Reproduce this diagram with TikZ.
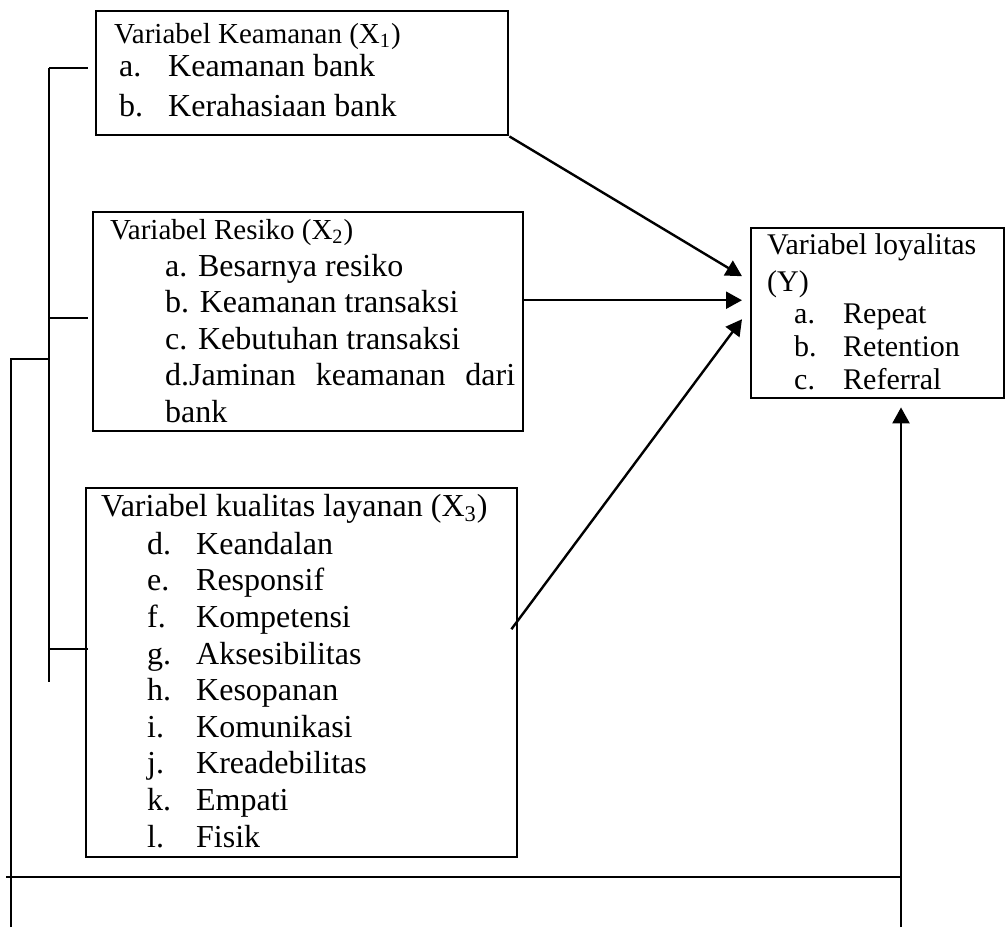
\documentclass[tikz,border=0pt]{standalone}
\usepackage{fontspec}
\setmainfont{Liberation Serif}
\usetikzlibrary{arrows.meta, positioning, calc}

% list entry: indent, label, text
\newcommand{\itm}[3]{\hspace*{#1}\makebox[24.5pt][l]{#2}#3}

\begin{document}
\begin{tikzpicture}[x=0.5pt, y=-0.5pt, line width=1.2pt,
    var/.style={draw, anchor=north west, inner sep=0pt},
    arr/.style={-{Triangle[length=8pt, width=8.5pt]}},
  ]
  \useasboundingbox (0,0) rectangle (1005,927);

  \node[var] (kx1) at (95,10) {\parbox[c][62pt][t]{206pt}{%
      \fontsize{16}{20}\selectfont
      \rule{0pt}{16pt}\hspace*{9pt}{\fontsize{14.5}{16}\selectfont
        Variabel Keamanan (X\textsubscript{1})}\\[-3.5pt]
      \itm{11.5pt}{a.}{Keamanan bank}\\
      \itm{11.5pt}{b.}{Kerahasiaan bank}}};

  \node[var] (kx2) at (92,211) {\parbox[c][109.5pt][t]{215pt}{%
      \fontsize{16}{18.25}\selectfont
      \rule{0pt}{13.5pt}\hspace*{8.5pt}{\fontsize{14.5}{16}\selectfont
        Variabel Resiko (X\textsubscript{2})}\\[0.25pt]
      \hspace*{36pt}a. Besarnya resiko\\
      \hspace*{36pt}b. Keamanan transaksi\\
      \hspace*{36pt}c. Kebutuhan transaksi\\
      \hspace*{36pt}\makebox[175pt][s]{d.Jaminan keamanan dari}\\
      \hspace*{36pt}bank}};

  \node[var] (kx3) at (85,487) {\parbox[c][184.5pt][t]{215.5pt}{%
      \fontsize{16}{18.3}\selectfont
      \rule{0pt}{14pt}\hspace*{7.5pt}Variabel kualitas layanan (X\textsubscript{3})\\[0.7pt]
      \itm{30.5pt}{d.}{Keandalan}\\
      \itm{30.5pt}{e.}{Responsif}\\
      \itm{30.5pt}{f.}{Kompetensi}\\
      \itm{30.5pt}{g.}{Aksesibilitas}\\
      \itm{30.5pt}{h.}{Kesopanan}\\
      \itm{30.5pt}{i.}{Komunikasi}\\
      \itm{30.5pt}{j.}{Kreadebilitas}\\
      \itm{30.5pt}{k.}{Empati}\\
      \itm{30.5pt}{l.}{Fisik}}};

  \node[var] (ky) at (750,227) {\parbox[c][85pt][t]{126.5pt}{%
      \fontsize{15}{16.5}\selectfont
      \rule{0pt}{13pt}\hspace*{8pt}Variabel loyalitas\\[2pt]
      \hspace*{8pt}(Y)\\[-0.5pt]
      \itm{21.5pt}{a.}{Repeat}\\
      \itm{21.5pt}{b.}{Retention}\\
      \itm{21.5pt}{c.}{Referral}}};

  % arrows into Y
  \coordinate (t2) at ([xshift=-4pt, yshift=6.5pt]ky.west);
  \draw[arr] (kx1.south east) -- ([xshift=-4pt, yshift=18.5pt]ky.west);
  \draw[arr] (kx2.east |- t2) -- (t2);
  \draw[arr] ([xshift=-3.5pt, yshift=21.75pt]kx3.east) -- ([xshift=-4pt, yshift=-3pt]ky.west);

  % bracket on the left
  \coordinate (br1) at (49,68);
  \coordinate (br2) at (49,318);
  \coordinate (br3) at (49,649);
  \coordinate (brbot) at (49,682);
  \draw (br1) -- (brbot);
  \draw (br1) -- ([xshift=-3.5pt]kx1.west |- br1);
  \draw (br2) -- ([xshift=-2pt]kx2.west |- br2);
  \draw (br3) -- ([xshift=1.5pt]kx3.west |- br3);

  % outer line round to Y
  \coordinate (ob1) at (11,359);
  \coordinate (ob2) at (11,927);
  \draw (ob2) -- (ob1) -- (ob1 -| br1);
  \coordinate (fl) at (6,877);
  \coordinate (fr) at (901,877);
  \coordinate (fb) at (901,927);
  \draw (fl) -- (fr);
  \draw[arr] (fb) -- ([yshift=-4pt]ky.south -| fb);
\end{tikzpicture}
\end{document}
